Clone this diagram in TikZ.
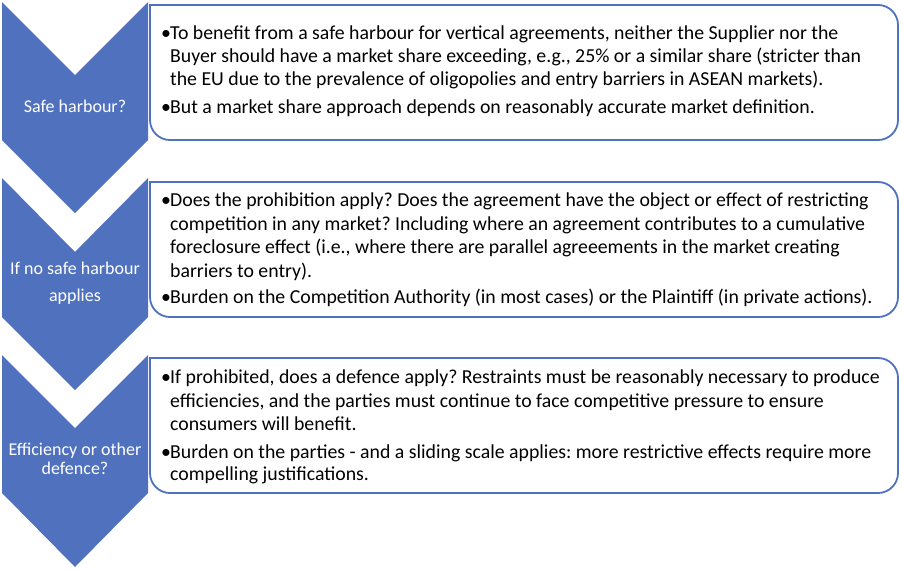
\documentclass[tikz,border=0pt]{standalone}
\usepackage{fontspec}
\setmainfont{Carlito}
\frenchspacing
\definecolor{chev}{RGB}{80,114,190}
\begin{document}
\begin{tikzpicture}[x=1pt,y=-1pt,
  chevshape/.style={fill=chev,draw=none},
  boxshape/.style={draw=chev,line width=1.8pt,fill=white,rounded corners=20pt},
  ltxt/.style={text=white,font=\fontsize{18}{21}\selectfont,inner sep=0pt,anchor=base},
  btxt/.style={text=black,font=\fontsize{19.8}{23}\selectfont,inner sep=0pt,anchor=base west},
]
\useasboundingbox (0,0) rectangle (902,570);
% chevrons
\path[chevshape] (2,2) -- (75,75) -- (148,2) -- (148,140) -- (75,213) -- (2,140) -- cycle;
\path[chevshape] (2,178) -- (75,252) -- (148,178) -- (148,317) -- (75,390) -- (2,317) -- cycle;
\path[chevshape] (2,355) -- (75,428) -- (148,355) -- (148,493) -- (75,567) -- (2,493) -- cycle;
% boxes
\draw[boxshape] (150,5) -- (898,5) -- (898,140) -- (150,140) [sharp corners] -- cycle;
\draw[boxshape] (150,182) -- (898,182) -- (898,317) -- (150,317) [sharp corners] -- cycle;
\draw[boxshape] (150,358) -- (898,358) -- (898,493) -- (150,493) [sharp corners] -- cycle;
% chevron labels
\node[ltxt] (c1) at (75,112) {Safe harbour?};
\node[ltxt] (c2a) at (75,274) {If no safe harbour};
\node[ltxt] (c2b) at (75,301) {applies};
\node[ltxt] (c3a) at (75,455) {Efficiency or other};
\node[ltxt] (c3b) at (75,474) {defence?};
% box 1
\node[btxt] (b1d1) at (161,39) {•};
\node[btxt] (b1l1) at (170,39) {To benefit from a safe harbour for vertical agreements, neither the Supplier nor the};
\node[btxt] (b1l2) at (170,62) {Buyer should have a market share exceeding, e.g., 25\% or a similar share (stricter than};
\node[btxt] (b1l3) at (170,85) {the EU due to the prevalence of oligopolies and entry barriers in ASEAN markets).};
\node[btxt] (b1d2) at (161,113) {•};
\node[btxt] (b1l4) at (170,113) {But a market share approach depends on reasonably accurate market definition.};
% box 2
\node[btxt] (b2d1) at (161,206) {•};
\node[btxt] (b2l1) at (170,206) {Does the prohibition apply? Does the agreement have the object or effect of restricting};
\node[btxt] (b2l2) at (170,230) {competition in any market? Including where an agreement contributes to a cumulative};
\node[btxt] (b2l3) at (170,253) {foreclosure effect (i.e., where there are parallel agreeements in the market creating};
\node[btxt] (b2l4) at (170,277) {barriers to entry).};
\node[btxt] (b2d2) at (161,303) {•};
\node[btxt] (b2l5) at (170,303) {Burden on the Competition Authority (in most cases) or the Plaintiff (in private actions).};
% box 3
\node[btxt] (b3d1) at (161,383) {•};
\node[btxt] (b3l1) at (170,383) {If prohibited, does a defence apply? Restraints must be reasonably necessary to produce};
\node[btxt] (b3l2) at (170,407) {efficiencies, and the parties must continue to face competitive pressure to ensure};
\node[btxt] (b3l3) at (170,430) {consumers will benefit.};
\node[btxt] (b3d2) at (161,458) {•};
\node[btxt] (b3l4) at (170,458) {Burden on the parties - and a sliding scale applies: more restrictive effects require more};
\node[btxt] (b3l5) at (170,480) {compelling justifications.};
\end{tikzpicture}
\end{document}
